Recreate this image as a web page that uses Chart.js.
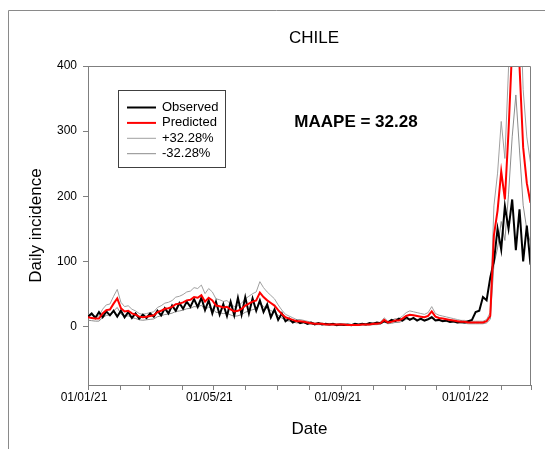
<!DOCTYPE html>
<html>
<head>
<meta charset="utf-8">
<script src="https://cdn.jsdelivr.net/npm/chart.js@4.4.1/dist/chart.umd.min.js"></script>
<style>
html, body { margin: 0; padding: 0; background: #fff; }
</style>
</head>
<body>
<canvas id="chileChart" width="545" height="449"></canvas>
<script>
// data, one value every 3.5 days from 01/01/21
const maape = 32.28;
const stepDays = 3.5;
const startDate = '2021-01-01';
const endDate = '2022-03-01';
const monthStarts = ['2021-01-01', '2021-02-01', '2021-03-01', '2021-04-01', '2021-05-01', '2021-06-01',
  '2021-07-01', '2021-08-01', '2021-09-01', '2021-10-01', '2021-11-01', '2021-12-01',
  '2022-01-01', '2022-02-01', '2022-03-01'];
const labelDates = ['2021-01-01', '2021-05-01', '2021-09-01', '2022-01-01'];
const dateLabels = ['01/01/21', '01/05/21', '01/09/21', '01/01/22'];
const yTicks = [0, 100, 200, 300, 400];

const observed = [
  15, 20, 13, 22, 14, 23, 17, 24, 15, 24,
  14, 22, 13, 20, 12, 18, 13, 20, 15, 24,
  17, 28, 20, 32, 24, 36, 27, 38, 30, 42,
  30, 44, 25, 40, 20, 38, 18, 34, 16, 38,
  17, 44, 18, 45, 20, 43, 24, 40, 22, 34,
  14, 26, 10, 20, 8, 12, 6, 9, 5, 7,
  4, 6, 3, 5, 3, 4, 3, 4, 2, 3,
  2, 3, 2, 4, 3, 4, 3, 5, 4, 6,
  5, 8, 6, 10, 8, 12, 9, 14, 10, 13,
  9, 12, 9, 11, 14, 9, 10, 8, 9, 7,
  8, 6, 7, 6, 8, 10, 22, 24, 45, 40,
  75, 100, 150, 118, 185, 150, 195, 117, 180, 100,
  155, 95
];

const predicted = [
  14, 13, 12, 12, 20, 25, 26, 35, 43, 28,
  23, 24, 20, 18, 15, 14, 15, 16, 17, 22,
  24, 27, 28, 30, 34, 35, 37, 40, 41, 45,
  44, 48, 38, 44, 40, 32, 31, 29, 30, 26,
  23, 24, 27, 32, 35, 38, 40, 52, 45, 40,
  36, 32, 25, 19, 14, 12, 10, 8, 8, 7,
  6, 5, 4, 4, 4, 3, 3, 3, 3, 3,
  3, 2, 2, 2, 2, 3, 3, 3, 4, 4,
  5, 10, 6, 7, 9, 9, 12, 16, 18, 17,
  16, 15, 14, 16, 23, 15, 13, 12, 11, 10,
  9, 8, 7, 7, 6, 6, 6, 6, 6, 8,
  16, 140, 178, 238, 195, 300, 430, 525, 400, 275,
  220, 190
];

// the two grey curves are the prediction shifted by +/- MAAPE percent
const upperBand = predicted.map(v => v * (1 + maape / 100));
const lowerBand = predicted.map(v => v * (1 - maape / 100));

const dayOf = s => (Date.parse(s) - Date.parse(startDate)) / 86400000;
const toPoints = arr => arr.map((v, i) => ({ x: i * stepDays, y: v }));

const FONT = 'Arial, "Liberation Sans", sans-serif';
const AXIS_GREY = '#7f7f7f';

const legendItems = [
  { text: 'Observed', color: '#000000', width: 2 },
  { text: 'Predicted', color: '#ff0000', width: 2 },
  { text: '+32.28%', color: '#a0a0a0', width: 1 },
  { text: '-32.28%', color: '#8c8c8c', width: 1 }
];

const decorations = {
  id: 'decorations',
  afterDraw(chart) {
    const ctx = chart.ctx;
    const a = chart.chartArea;
    ctx.save();

    // outer figure border (left and top only)
    ctx.strokeStyle = '#8a8a8a';
    ctx.lineWidth = 1;
    ctx.beginPath();
    ctx.moveTo(8.5, 449);
    ctx.lineTo(8.5, 10.5);
    ctx.lineTo(545, 10.5);
    ctx.stroke();

    // top and right edges of the plot frame
    ctx.strokeStyle = AXIS_GREY;
    ctx.beginPath();
    ctx.moveTo(a.left, a.top + 0.5);
    ctx.lineTo(a.right - 0.5, a.top + 0.5);
    ctx.lineTo(a.right - 0.5, a.bottom);
    ctx.stroke();

    // title
    ctx.fillStyle = '#000';
    ctx.textAlign = 'center';
    ctx.textBaseline = 'middle';
    ctx.font = '17px ' + FONT;
    ctx.fillText('CHILE', 314, 38);

    // MAAPE annotation
    ctx.font = 'bold 17px ' + FONT;
    ctx.fillText('MAAPE = ' + maape.toFixed(2), 356, 122);

    // legend box
    ctx.strokeStyle = '#404040';
    ctx.lineWidth = 1;
    ctx.strokeRect(118.5, 90.5, 107, 77);
    ctx.font = '13px ' + FONT;
    ctx.textAlign = 'left';
    legendItems.forEach((item, i) => {
      const y = 107.5 + i * 15.4;
      ctx.strokeStyle = item.color;
      ctx.lineWidth = item.width;
      ctx.beginPath();
      ctx.moveTo(127, y);
      ctx.lineTo(156, y);
      ctx.stroke();
      ctx.fillStyle = '#000';
      ctx.fillText(item.text, 162, y);
    });
    ctx.restore();
  }
};

const lineSet = (data, color, width) => ({
  data: data,
  borderColor: color,
  borderWidth: width,
  pointRadius: 0,
  tension: 0,
  fill: false,
  clip: 0
});

new Chart(document.getElementById('chileChart'), {
  type: 'line',
  data: {
    datasets: [
      lineSet(toPoints(predicted), '#ff0000', 2),
      lineSet(toPoints(observed), '#000000', 2),
      lineSet(toPoints(upperBand), '#a0a0a0', 1),
      lineSet(toPoints(lowerBand), '#8c8c8c', 1)
    ]
  },
  options: {
    responsive: false,
    animation: false,
    devicePixelRatio: 1,
    layout: { padding: { top: 66, right: 14, left: 0, bottom: 0 } },
    plugins: {
      legend: { display: false },
      tooltip: { enabled: false },
      title: { display: false }
    },
    scales: {
      x: {
        type: 'linear',
        min: 0,
        max: dayOf(endDate),
        afterBuildTicks: s => { s.ticks = monthStarts.map(d => ({ value: dayOf(d) })); },
        afterFit: s => { s.height = 64; },
        grid: { drawOnChartArea: false, drawTicks: true, tickLength: 5, color: AXIS_GREY, tickColor: AXIS_GREY },
        border: { display: true, color: AXIS_GREY, width: 1 },
        ticks: {
          autoSkip: false,
          maxRotation: 0,
          padding: 0,
          labelOffset: -4,
          color: '#000',
          font: { family: FONT, size: 12 },
          callback: v => {
            const k = labelDates.map(dayOf).indexOf(v);
            return k >= 0 ? dateLabels[k] : '';
          }
        },
        title: { display: true, text: 'Date', color: '#000', font: { family: FONT, size: 17 }, padding: { top: 0, bottom: 9 } }
      },
      y: {
        min: -90,
        max: 400,
        afterBuildTicks: s => { s.ticks = yTicks.map(v => ({ value: v })); },
        afterFit: s => { s.width = 88; },
        grid: { drawOnChartArea: false, drawTicks: true, tickLength: 5, color: AXIS_GREY, tickColor: AXIS_GREY },
        border: { display: true, color: AXIS_GREY, width: 1 },
        ticks: { padding: 6, color: '#000', font: { family: FONT, size: 12 } },
        title: { display: true, text: 'Daily incidence', color: '#000', font: { family: FONT, size: 17 }, padding: { top: 26, bottom: 0 } }
      }
    }
  },
  plugins: [decorations]
});
</script>
</body>
</html>
